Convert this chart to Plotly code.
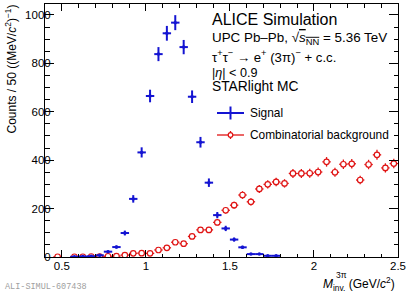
import plotly.graph_objects as go

# ---------------- data ----------------
signal_mass = [0.575, 0.625, 0.675, 0.725, 0.775, 0.825, 0.875, 0.925, 0.975, 1.025,
               1.075, 1.125, 1.175, 1.225, 1.275, 1.325, 1.375, 1.425, 1.475, 1.525,
               1.575, 1.625, 1.675, 1.725, 1.775]
signal_counts = [1, 2, 3, 7, 22, 41, 99, 240, 432, 665,
                 838, 924, 968, 867, 662, 474, 307, 173, 118, 72,
                 40, 12, 12, 5, 5]
signal_err = [1, 1.5, 2, 3, 5, 6.5, 10, 15.5, 21, 26,
              29, 30.5, 31, 29.5, 26, 22, 17.5, 13, 11, 8.5,
              6.5, 3.5, 3.5, 2, 2]

bkg_mass = [0.475, 0.575, 0.625, 0.675, 0.725, 0.775, 0.825, 0.875, 0.925, 0.975,
            1.025, 1.075, 1.125, 1.175, 1.225, 1.275, 1.325, 1.375, 1.425, 1.475,
            1.525, 1.575, 1.625, 1.675, 1.725, 1.775, 1.825, 1.875, 1.925, 1.975,
            2.025, 2.075, 2.125, 2.175, 2.225, 2.275, 2.325, 2.375, 2.425, 2.475]
bkg_counts = [1, 1, 1, 2, 2, 3, 4, 8, 15, 16,
              15, 29, 38, 61, 55, 85, 112, 112, 143, 193,
              214, 256, 228, 281, 300, 310, 304, 345, 345, 346,
              351, 393, 350, 383, 385, 318, 382, 422, 368, 386]
bkg_err = [1, 1, 1, 1.4, 1.4, 1.7, 2, 2.8, 3.9, 4,
           3.9, 5.4, 6.2, 7.8, 7.4, 9.2, 10.6, 10.6, 12, 13.9,
           14.6, 16, 15.1, 16.8, 17.3, 17.6, 17.4, 18.6, 18.6, 18.6,
           18.7, 19.8, 18.7, 19.6, 19.6, 17.8, 19.5, 20.5, 19.2, 19.6]
bin_half_width = 0.025

x_ticks = [0.5, 1, 1.5, 2, 2.5]
x_tick_labels = ["0.5", "1", "1.5", "2", "2.5"]
y_ticks = [0, 200, 400, 600, 800, 1000]
y_tick_labels = ["0", "200", "400", "600", "800", "1000"]

# ---------------- figure ----------------
W, H = 412, 293
L, R, T, B = 45, 14, 4, 36
PW, PH = W - L - R, H - T - B
FONT = "Liberation Sans, Arial, sans-serif"
BLUE = "#1414d2"
RED = "#e01414"


def px(x):
    return (x - L) / PW


def py(y):
    return (H - B - y) / PH


fig = go.Figure()

fig.add_trace(go.Scatter(
    x=bkg_mass, y=bkg_counts, mode="markers",
    marker=dict(symbol="circle", size=5.5, color="white",
                line=dict(color=RED, width=1.2)),
    error_y=dict(type="data", array=bkg_err, color=RED, thickness=1.3, width=0),
    error_x=dict(type="constant", value=bin_half_width, color=RED, thickness=1.3, width=0),
    showlegend=False, hoverinfo="skip"))

fig.add_trace(go.Scatter(
    x=signal_mass, y=signal_counts, mode="markers",
    marker=dict(symbol="circle", size=3.5, color=BLUE),
    error_y=dict(type="data", array=signal_err, color=BLUE, thickness=2, width=0),
    error_x=dict(type="constant", value=bin_half_width, color=BLUE, thickness=2, width=0),
    showlegend=False, hoverinfo="skip"))

axis_common = dict(showline=True, linecolor="black", linewidth=1, mirror="allticks",
                   ticks="inside", tickcolor="black", tickwidth=1, showgrid=False,
                   zeroline=False, tickfont=dict(family=FONT, size=11.5, color="black"))

fig.update_xaxes(range=[0.4, 2.5], tickvals=x_ticks, ticktext=x_tick_labels, ticklen=7,
                 ticklabelstandoff=-2,
                 minor=dict(dtick=0.1, tick0=0, ticklen=3.5, ticks="inside",
                            tickcolor="black", showgrid=False),
                 **axis_common)
fig.update_yaxes(range=[0, 1045], tickvals=y_ticks, ticktext=y_tick_labels, ticklen=9,
                 ticklabelstandoff=-9,
                 minor=dict(dtick=50, tick0=0, ticklen=4.5, ticks="inside",
                            tickcolor="black", showgrid=False),
                 **axis_common)

ann = []


def text(x, y, s, size, xanchor="left", yanchor="middle", color="black", family=FONT, angle=0):
    ann.append(dict(x=px(x), y=py(y), xref="paper", yref="paper", text=s, showarrow=False,
                    xanchor=xanchor, yanchor=yanchor, textangle=angle,
                    font=dict(family=family, size=size, color=color)))


text(210, 20, "ALICE Simulation", 16)
text(210, 38, "UPC Pb–Pb, √<span style='text-decoration:overline'><i>s</i><sub>NN</sub></span> = 5.36 TeV", 13.4)
text(210, 56, "τ<sup>+</sup>τ<sup>−</sup> → e<sup>+</sup> (3π)<sup>−</sup> + c.c.", 13.2)
text(210, 72.5, "|<i>η</i>| &lt; 0.9", 12.6)
text(210, 86.5, "STARlight MC", 13.8)
text(248, 113, "Signal", 11.9)
text(248, 135, "Combinatorial background", 11.9)
text(397, 284, "<i>M</i><sub>inv.</sub> (GeV/<i>c</i><sup>2</sup>)", 12, xanchor="right")
text(334, 275, "3π", 8.5)
text(10, 3, "Counts / 50 ((MeV/<i>c</i><sup>2</sup>)<sup>−1</sup>)", 12, xanchor="center",
     yanchor="top", angle=-90)
text(3, 287, "ALI-SIMUL-607438", 8.5, color="#a0a0a0", family="Liberation Mono, monospace")

shapes = []


def line(x0, y0, x1, y1, color, width):
    shapes.append(dict(type="line", xref="paper", yref="paper", x0=px(x0), y0=py(y0),
                       x1=px(x1), y1=py(y1), line=dict(color=color, width=width)))


# legend glyphs
line(217, 113, 244, 113, BLUE, 2)
line(230.5, 106.5, 230.5, 119.5, BLUE, 2)
line(217, 135, 244, 135, RED, 1.3)
line(230.5, 131, 230.5, 139, RED, 1.3)
shapes.append(dict(type="circle", xref="paper", yref="paper",
                   x0=px(228.2), x1=px(232.8), y0=py(137.3), y1=py(132.7),
                   fillcolor="white", line=dict(color=RED, width=1.2)))

fig.update_layout(width=W, height=H, margin=dict(l=L, r=R, t=T, b=B, pad=0),
                  paper_bgcolor="white", plot_bgcolor="white",
                  annotations=ann, shapes=shapes, showlegend=False)

fig.write_html("out.html", config={"displayModeBar": False},
               post_script="document.body.style.margin='0';document.body.style.overflow='hidden';")
